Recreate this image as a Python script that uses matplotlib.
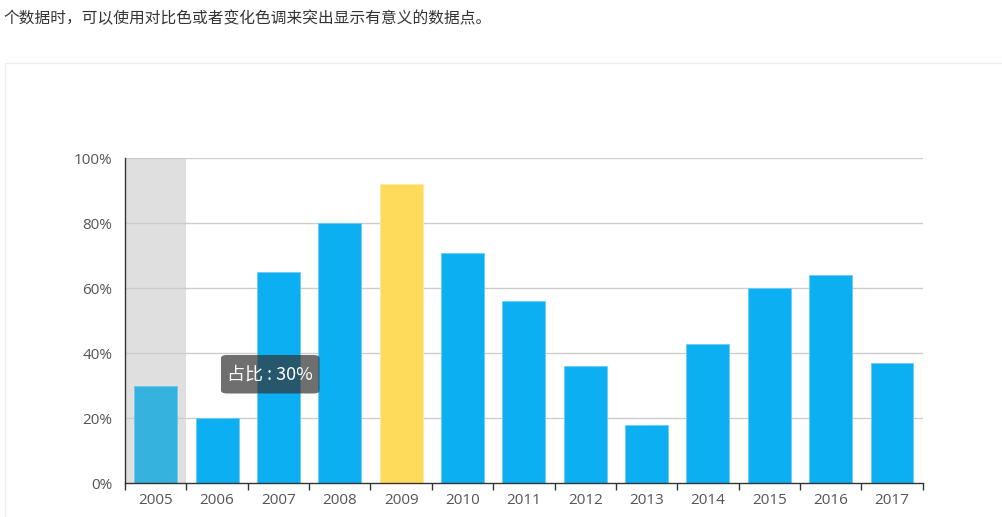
import matplotlib
matplotlib.use("Agg")
import matplotlib.pyplot as plt
from matplotlib.patches import Rectangle, FancyBboxPatch

years = ["2005", "2006", "2007", "2008", "2009", "2010", "2011", "2012",
         "2013", "2014", "2015", "2016", "2017"]
values = [30, 20, 65, 80, 92, 71, 56, 36, 18, 43, 60, 64, 37]
highlight_index = 4      # yellow bar (2009)
hover_index = 0          # hovered category (2005)
yticks = [0, 20, 40, 60, 80, 100]
title_text = "个数据时，可以使用对比色或者变化色调来突出显示有意义的数据点。"
tooltip_label = "占比"

W, H = 1003, 517
fig = plt.figure(figsize=(W / 100, H / 100), dpi=100)
fig.patch.set_facecolor("white")

# page text
fig.text(3 / W, 1 - 19 / H, title_text, fontsize=11.3, color="#333333",
         family=["Noto Sans CJK SC", "DejaVu Sans"], va="center", ha="left")

# panel border
fig.patches.append(Rectangle((4.5 / W, -0.1), 1.2, 1 - 63 / H + 0.1,
                             transform=fig.transFigure, fill=False,
                             edgecolor="#eeeeee", linewidth=1, zorder=0))

ax = fig.add_axes([125 / W, 1 - 483.3 / H, (922.7 - 125) / W, (483.3 - 158.3) / H])
ax.set_facecolor("none")
x = list(range(len(years)))
ax.set_xlim(-0.5, len(years) - 0.5)
ax.set_ylim(0, 100)

# hover band
ax.axvspan(hover_index - 0.5, hover_index + 0.5, ymin=0, ymax=1,
           color="#dfdfdf", zorder=0.5, linewidth=0)

colors = []
edges = []
for i in x:
    if i == highlight_index:
        colors.append("#ffdb5c"); edges.append("#ffe8a0")
    elif i == hover_index:
        colors.append("#35b2de"); edges.append("#6cc6e6")
    else:
        colors.append("#0daff3"); edges.append("#6ccdf6")
ax.bar(x, values, width=0.7, color=colors, edgecolor=edges, linewidth=0.6, zorder=3)

for t in yticks[1:]:
    ax.axhline(t, color="#cccccc", linewidth=1, zorder=1)

for s in ["top", "right"]:
    ax.spines[s].set_visible(False)
for s in ["left", "bottom"]:
    ax.spines[s].set_color("#333333")
    ax.spines[s].set_linewidth(1)
    ax.spines[s].set_zorder(4)

ax.set_yticks(yticks)
ax.set_yticklabels([f"{t}%" for t in yticks])
ax.tick_params(axis="y", length=0, pad=9, labelsize=11, labelcolor="#555555")
for lab in ax.get_yticklabels():
    lab.set_family("Open Sans")

ax.set_xticks([i - 0.5 for i in range(len(years) + 1)])
ax.set_xticklabels([])
ax.tick_params(axis="x", which="major", length=5, width=1, color="#333333", direction="out")
ax.set_xticks(x, minor=True)
ax.set_xticklabels(years, minor=True)
ax.tick_params(axis="x", which="minor", length=0, pad=7, labelsize=11, labelcolor="#555555")
for lab in ax.get_xticklabels(minor=True):
    lab.set_family("Open Sans")

# tooltip
bx0, by0, bx1, by1 = 221, 355, 319.5, 393.5
fig.patches.append(FancyBboxPatch((bx0 / W, 1 - by1 / H), (bx1 - bx0) / W, (by1 - by0) / H,
                                  boxstyle="round,pad=0,rounding_size=0.006",
                                  transform=fig.transFigure, facecolor=(50/255, 50/255, 50/255, 0.7),
                                  edgecolor="none", zorder=10))
fig.text((bx0 + bx1) / 2 / W, 1 - (by0 + by1) / 2 / H,
         f"{tooltip_label} : {values[hover_index]}%", color="white", fontsize=13,
         family=["Noto Sans CJK SC", "DejaVu Sans"], ha="center", va="center", zorder=11)

fig.savefig("out.png", dpi=100, facecolor="white")
